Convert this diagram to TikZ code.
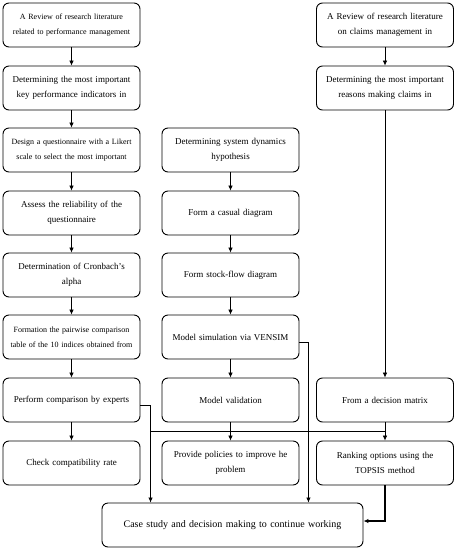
\documentclass[tikz,border=0pt]{standalone}
\usepackage{fontspec}
\setmainfont{Liberation Serif}
\usetikzlibrary{arrows.meta,calc}
\tikzset{%
  stage/.style      = {shape=rectangle, rounded corners=6pt, draw, line width=0.9pt,%
                       align=center, text width=131pt, inner xsep=3pt,%
                       minimum height=44pt, font=\fontsize{9}{15.5}\selectfont},%
  smallstage/.style = {stage, font=\fontsize{8}{15}\selectfont},%
  widestage/.style  = {stage, text width=255pt, font=\fontsize{10}{15}\selectfont},%
  link/.style       = {draw, line width=0.7pt, -{Latex[length=5pt,width=4.5pt]}},%
  bus/.style        = {draw, line width=1.6pt}%
}
\begin{document}
\begin{tikzpicture}[x=1pt, y=-1pt]
  \useasboundingbox (0,0) rectangle (458,550);
  % left column: performance indicators
  \node[smallstage] (litKPI)   at (71.5,25)  {A Review of research literature\\related to performance management};
  \node[stage]      (mostKPI)  at (71.5,88)  {Determining the most important\\key performance indicators in};
  \node[smallstage] (quest)    at (71.5,150) {Design a questionnaire with a Likert\\scale to select the most important};
  \node[stage]      (reliab)   at (71.5,213) {Assess the reliability of the\\questionnaire};
  \node[stage]      (cronbach) at (71.5,275) {Determination of Cronbach's\\alpha};
  \node[smallstage] (pairwise) at (71.5,337) {Formation the pairwise comparison\\table of the 10 indices obtained from};
  \node[stage]      (experts)  at (71.5,400) {Perform comparison by experts};
  \node[stage]      (compat)   at (71.5,463) {Check compatibility rate};
  % middle column: system dynamics
  \node[stage] (hypo)     at (230.5,150) {Determining system dynamics\\hypothesis};
  \node[stage] (causal)   at (230.5,213) {Form a casual diagram};
  \node[stage] (stock)    at (230.5,275) {Form stock-flow diagram};
  \node[stage] (vensim)   at (230.5,337) {Model simulation via VENSIM};
  \node[stage] (valid)    at (230.5,400) {Model validation};
  \node[stage] (policy)   at (230.5,463) {Provide policies to improve he\\problem};
  % right column: claims
  \node[stage] (litClaim)  at (385,25)  {A Review of research literature\\on claims management in};
  \node[stage] (mostClaim) at (385,88)  {Determining the most important\\reasons making claims in};
  \node[stage] (decision)  at (385,400) {From a decision matrix};
  \node[stage] (topsis)    at (385,463) {Ranking options using the\\TOPSIS method};
  % bottom
  \node[widestage] (case) at (232.5,525) {Case study and decision making to continue working};

  \foreach \a/\b in {litKPI/mostKPI, mostKPI/quest, quest/reliab, reliab/cronbach,%
                     cronbach/pairwise, pairwise/experts, experts/compat,%
                     hypo/causal, causal/stock, stock/vensim, vensim/valid, valid/policy,%
                     litClaim/mostClaim, mostClaim/decision, decision/topsis}
    \draw[link] (\a.south) -- (\b.north);

  \coordinate (dropL) at ([xshift=49pt]case.north west);
  \coordinate (dropR) at ([xshift=-55pt]case.north east);
  \coordinate (join)  at ($(decision.south)!0.5!(topsis.north)$);
  \draw[link] ([yshift=-5pt]experts.east) -| (dropL);
  \draw[link] ([yshift=-5pt]vensim.east) -| (dropR);
  \draw[bus] (join -| dropL) -- (join);
  \draw[link, line width=1.2pt] (topsis.south) |- ([yshift=4pt]case.east);
\end{tikzpicture}
\end{document}
